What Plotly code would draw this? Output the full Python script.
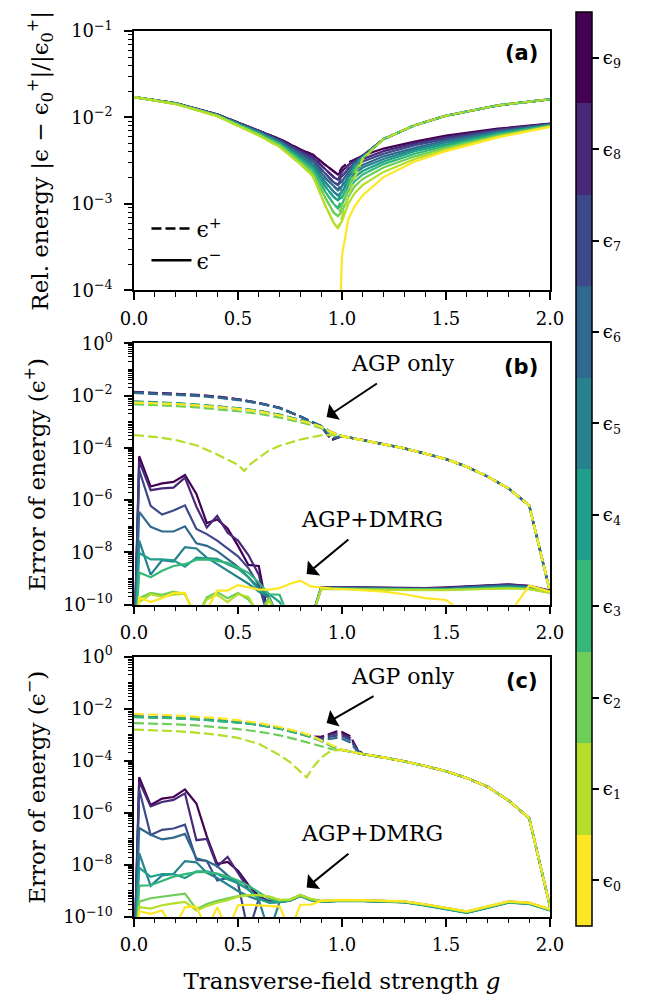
import plotly.graph_objects as go

# ---------------------------------------------------------------- colours
# viridis sampled at ten levels; index k is the colour of level eps_k
COLORS = ["#fde725", "#b5de2b", "#6ece58", "#35b779", "#1f9e89",
          "#26828e", "#31688e", "#3e4989", "#482878", "#440154"]
LEVEL_LABELS = ["ϵ<sub>%d</sub>" % k for k in range(10)]

# ---------------------------------------------------------------- panel (a)
# relative energy, stored as log10 of the value, one row per level k = 0..9
GA = [0.0, 0.2, 0.4, 0.6, 0.7, 0.8, 0.86, 0.92, 0.96, 0.98,
      1.0, 1.03, 1.06, 1.1, 1.2, 1.35, 1.5, 1.75, 2.0]
A_MINUS = [
    [None, None, None, None, None, None, None, None, None, -5.0,
     -3.60, -3.18, -3.03, -2.90, -2.69, -2.51, -2.39, -2.23, -2.11],
    [-1.765, -1.845, -1.985, -2.21, -2.34, -2.54, -2.68, -3.02, -3.22, -3.28,
     -3.20, -3.00, -2.88, -2.78, -2.63, -2.48, -2.37, -2.22, -2.105],
    [-1.765, -1.842, -1.980, -2.20, -2.325, -2.515, -2.645, -2.93, -3.10, -3.14,
     -3.09, -2.92, -2.80, -2.71, -2.58, -2.45, -2.35, -2.21, -2.10],
    [-1.765, -1.841, -1.977, -2.19, -2.31, -2.49, -2.61, -2.86, -3.00, -3.05,
     -3.00, -2.85, -2.74, -2.66, -2.54, -2.42, -2.33, -2.195, -2.095],
    [-1.765, -1.840, -1.975, -2.18, -2.30, -2.47, -2.58, -2.80, -2.92, -2.96,
     -2.92, -2.79, -2.69, -2.62, -2.51, -2.39, -2.31, -2.185, -2.09],
    [-1.765, -1.839, -1.973, -2.175, -2.29, -2.45, -2.55, -2.75, -2.86, -2.90,
     -2.86, -2.74, -2.65, -2.58, -2.48, -2.37, -2.29, -2.175, -2.087],
    [-1.765, -1.838, -1.971, -2.17, -2.28, -2.43, -2.52, -2.70, -2.80, -2.84,
     -2.80, -2.69, -2.61, -2.55, -2.45, -2.35, -2.27, -2.165, -2.083],
    [-1.765, -1.837, -1.969, -2.16, -2.27, -2.41, -2.49, -2.65, -2.75, -2.78,
     -2.74, -2.64, -2.57, -2.51, -2.42, -2.32, -2.25, -2.15, -2.079],
    [-1.765, -1.836, -1.967, -2.155, -2.26, -2.39, -2.46, -2.60, -2.69, -2.72,
     -2.68, -2.60, -2.53, -2.48, -2.39, -2.30, -2.23, -2.14, -2.075],
    [-1.765, -1.835, -1.965, -2.15, -2.25, -2.37, -2.43, -2.55, -2.63, -2.66,
     -2.62, -2.56, -2.49, -2.44, -2.36, -2.28, -2.21, -2.13, -2.07],
]
# eps^+ coincides with eps^- up to g = 0.98; beyond that it is listed here
A_PLUS_SPLIT = 10
A_PLUS_RIGHT = [
    None,
    [-3.15, -2.93, -2.70, -2.48, -2.25, -2.09, -1.98, -1.86, -1.79],
    [-3.02, -2.84, -2.64, -2.47, -2.25, -2.09, -1.98, -1.86, -1.79],
    [-2.93, -2.77, -2.60, -2.465, -2.25, -2.09, -1.98, -1.86, -1.79],
    [-2.85, -2.71, -2.57, -2.46, -2.25, -2.09, -1.98, -1.86, -1.79],
    [-2.79, -2.67, -2.55, -2.455, -2.25, -2.09, -1.98, -1.86, -1.79],
    [-2.74, -2.63, -2.53, -2.45, -2.25, -2.09, -1.98, -1.86, -1.79],
    [-2.68, -2.59, -2.51, -2.45, -2.25, -2.09, -1.98, -1.86, -1.79],
    [-2.63, -2.55, -2.50, -2.445, -2.25, -2.09, -1.98, -1.86, -1.79],
    [-2.58, -2.52, -2.49, -2.44, -2.25, -2.09, -1.98, -1.86, -1.79],
]

# ---------------------------------------------------------------- AGP only, panels (b) and (c)
HEAD_G = [0.0, 0.1, 0.2, 0.3, 0.4, 0.5, 0.6, 0.7, 0.8, 0.85, 0.9, 0.95]
TAIL_G = [1.0, 1.1, 1.2, 1.3, 1.4, 1.5, 1.6, 1.7, 1.8, 1.9, 2.0]

B_AGP_TAIL = [-3.55, -3.70, -3.85, -4.02, -4.22, -4.43, -4.72, -5.10, -5.55, -6.20, -9.50]
B_AGP_E1_G = [0.0, 0.1, 0.2, 0.3, 0.4, 0.45, 0.5, 0.53, 0.56, 0.6, 0.65, 0.7, 0.8, 0.9, 0.95]
B_AGP_E1 = [-3.51, -3.58, -3.70, -3.90, -4.25, -4.45, -4.65, -4.88, -4.62, -4.38,
            -4.10, -3.92, -3.68, -3.52, -3.50]
B_AGP_HEAD = [
    [-2.27, -2.29, -2.32, -2.37, -2.43, -2.51, -2.61, -2.76, -2.96, -3.06, -3.20, -3.40],
    None,
    [-2.33, -2.36, -2.40, -2.45, -2.52, -2.60, -2.70, -2.84, -3.02, -3.12, -3.25, -3.42],
    [-2.25, -2.27, -2.31, -2.36, -2.42, -2.50, -2.60, -2.75, -2.95, -3.05, -3.19, -3.40],
    [-2.24, -2.26, -2.30, -2.35, -2.41, -2.49, -2.59, -2.74, -2.94, -3.04, -3.18, -3.40],
    [-2.22, -2.25, -2.29, -2.34, -2.40, -2.48, -2.58, -2.73, -2.93, -3.03, -3.17, -3.40],
    [-1.90, -1.93, -1.96, -2.01, -2.08, -2.17, -2.30, -2.48, -2.80, -2.99, -3.16, -3.62],
    [-1.88, -1.91, -1.94, -1.99, -2.06, -2.15, -2.29, -2.47, -2.80, -2.99, -3.17, -3.65],
    [-1.87, -1.90, -1.93, -1.98, -2.05, -2.14, -2.28, -2.47, -2.80, -3.00, -3.18, -3.68],
    [-1.86, -1.89, -1.92, -1.97, -2.04, -2.14, -2.28, -2.47, -2.80, -3.00, -3.18, -3.70],
]

C_AGP_TAIL = [-3.58, -3.74, -3.87, -4.02, -4.20, -4.40, -4.66, -5.00, -5.52, -6.20, -9.60]
C_AGP_E1_G = [0.0, 0.1, 0.2, 0.3, 0.4, 0.5, 0.6, 0.7, 0.75, 0.8, 0.83, 0.86, 0.9, 0.95]
C_AGP_E1 = [-2.80, -2.82, -2.86, -2.92, -3.00, -3.12, -3.35, -3.78, -4.05, -4.42,
            -4.63, -4.25, -3.88, -3.60]
C_ARCH_G = [0.0, 0.1, 0.2, 0.3, 0.4, 0.5, 0.6, 0.7, 0.8, 0.85, 0.9, 0.95,
            0.975, 1.0, 1.04, 1.07]
C_AGP_HEAD = [
    [-2.20, -2.22, -2.26, -2.31, -2.36, -2.44, -2.55, -2.70, -2.90, -3.03, -3.20, -3.40],
    None,
    [-2.55, -2.57, -2.60, -2.64, -2.70, -2.78, -2.88, -3.02, -3.22, -3.33, -3.45, -3.55],
    [-2.32, -2.34, -2.37, -2.41, -2.46, -2.53, -2.63, -2.77, -2.97, -3.09, -3.24, -3.44],
    [-2.31, -2.33, -2.36, -2.40, -2.45, -2.52, -2.62, -2.76, -2.96, -3.08, -3.23, -3.43],
    [-2.30, -2.32, -2.35, -2.39, -2.44, -2.51, -2.61, -2.75, -2.95, -3.07, -3.22, -3.42],
    [-2.30, -2.32, -2.35, -2.39, -2.44, -2.51, -2.61, -2.75, -2.95, -3.07, -3.20, -3.15,
     -3.12, -3.15, -3.30, -3.60],
    [-2.30, -2.32, -2.35, -2.39, -2.44, -2.51, -2.61, -2.75, -2.95, -3.07, -3.16, -3.06,
     -3.03, -3.06, -3.20, -3.56],
    [-2.30, -2.32, -2.35, -2.39, -2.44, -2.51, -2.61, -2.75, -2.95, -3.07, -3.12, -2.98,
     -2.95, -2.98, -3.13, -3.53],
    [-2.30, -2.32, -2.35, -2.39, -2.44, -2.51, -2.61, -2.75, -2.95, -3.07, -3.08, -2.92,
     -2.87, -2.90, -3.06, -3.50],
]

# ---------------------------------------------------------------- AGP+DMRG, panels (b) and (c)
DG = [0.0, 0.025, 0.08, 0.135, 0.19, 0.245, 0.30, 0.35, 0.40, 0.45, 0.50, 0.55,
      0.60, 0.65, 0.70, 0.75, 0.80, 0.85, 0.90, 0.95, 1.0, 1.1, 1.2, 1.3, 1.4,
      1.5, 1.6, 1.7, 1.8, 1.9, 2.0]
B_DMRG = [
    [-12, -9.72, -9.90, -9.75, -9.55, -9.55, -10.6, -10.2, -9.46, -9.46, -9.25, -9.33,
     -9.42, -9.42, -9.37, -9.20, -9.08, -9.30, -9.35, -9.38, -9.40, -9.45, -9.50, -9.60,
     -9.75, -9.82, -10.4, -10.4, -10.4, -9.27, -9.50],
    [-12, -9.90, -9.60, -9.70, -9.62, -9.58, -10.5, -9.80, -9.62, -9.90, -9.60, -9.70,
     -10.4, -9.85, -10.6, -10.6, -10.6, -10.6, -9.40, -9.41, -9.41, -9.42, -9.43, -9.44,
     -9.45, -9.44, -9.42, -9.40, -9.38, -9.41, -9.55],
    [-12, -9.75, -9.55, -9.62, -9.50, -9.60, -10.5, -9.72, -9.52, -9.75, -9.55, -9.80,
     -10.3, -9.75, -10.6, -10.6, -10.6, -10.6, -9.39, -9.40, -9.40, -9.41, -9.42, -9.43,
     -9.44, -9.43, -9.41, -9.38, -9.37, -9.40, -9.54],
    [-12, -8.77, -8.95, -8.70, -8.52, -8.45, -8.28, -8.27, -8.33, -8.40, -8.58, -8.78,
     -9.15, -9.60, -9.62, -10.6, -10.6, -10.6, -9.38, -9.39, -9.39, -9.40, -9.41, -9.42,
     -9.43, -9.42, -9.40, -9.37, -9.35, -9.38, -9.53],
    [-12, -8.02, -8.27, -8.27, -8.30, -8.55, -8.20, -8.22, -8.25, -8.45, -8.62, -8.95,
     -9.45, -9.60, -9.90, -10.6, -10.6, -10.6, -9.38, -9.38, -9.38, -9.39, -9.40, -9.41,
     -9.42, -9.41, -9.38, -9.35, -9.33, -9.37, -9.52],
    [-12, -7.55, -8.85, -8.30, -8.35, -7.80, -7.85, -8.20, -8.45, -8.70, -8.95, -9.20,
     -9.50, -9.75, -10.6, -10.6, -10.6, -10.6, -9.37, -9.37, -9.37, -9.38, -9.39, -9.40,
     -9.41, -9.40, -9.37, -9.33, -9.31, -9.35, -9.51],
    [-12, -6.45, -7.02, -7.20, -7.20, -7.00, -7.65, -7.75, -7.95, -8.25, -8.55, -8.95,
     -9.35, -9.70, -10.6, -10.6, -10.6, -10.6, -9.36, -9.36, -9.36, -9.37, -9.38, -9.39,
     -9.40, -9.39, -9.35, -9.30, -9.28, -9.33, -9.50],
    [-12, -4.85, -6.22, -6.55, -6.40, -6.20, -7.10, -7.30, -7.55, -7.85, -8.15, -8.60,
     -9.25, -10.6, -10.6, -10.6, -10.6, -10.6, -9.35, -9.35, -9.35, -9.36, -9.37, -9.38,
     -9.39, -9.37, -9.33, -9.28, -9.25, -9.31, -9.48],
    [-12, -4.52, -5.62, -5.55, -5.52, -5.14, -6.25, -7.05, -6.60, -7.25, -7.55, -8.10,
     -8.85, -10.6, -10.6, -10.6, -10.6, -10.6, -9.35, -9.34, -9.35, -9.35, -9.36, -9.37,
     -9.38, -9.36, -9.31, -9.26, -9.23, -9.29, -9.47],
    [-12, -4.32, -5.48, -5.36, -5.30, -5.04, -5.76, -6.88, -6.74, -7.08, -7.75, -8.48,
     -8.52, -10.6, -10.6, -10.6, -10.6, -10.6, -9.34, -9.33, -9.34, -9.34, -9.35, -9.36,
     -9.37, -9.34, -9.30, -9.25, -9.22, -9.28, -9.46],
]
C_DMRG = [
    [-12, -9.78, -9.88, -9.75, -10.5, -9.62, -9.60, -10.5, -9.62, -10.5, -9.55, -9.53,
     -9.55, -9.58, -9.60, -10.5, -9.53, -9.53, -9.38, -9.36, -9.34, -9.35, -9.37, -9.40,
     -9.51, -9.64, -9.78, -9.59, -9.40, -9.45, -9.70],
    [-12, -9.62, -9.68, -9.55, -9.48, -9.42, -9.75, -9.58, -9.45, -9.35, -9.22, -9.16,
     -9.16, -9.22, -9.34, -9.33, -9.15, -9.31, -9.38, -9.36, -9.35, -9.36, -9.38, -9.41,
     -9.52, -9.65, -9.79, -9.60, -9.41, -9.46, -9.71],
    [-12, -9.41, -9.28, -9.22, -9.15, -9.10, -9.70, -9.50, -9.38, -9.30, -9.20, -9.16,
     -9.16, -9.22, -9.35, -9.33, -9.15, -9.31, -9.39, -9.37, -9.35, -9.36, -9.38, -9.41,
     -9.53, -9.66, -9.80, -9.61, -9.42, -9.47, -9.72],
    [-12, -8.80, -8.78, -8.60, -8.45, -8.35, -8.28, -8.28, -8.33, -8.45, -8.60, -8.80,
     -9.05, -9.30, -9.40, -9.35, -9.17, -9.33, -9.40, -9.38, -9.36, -9.37, -9.39, -9.42,
     -9.54, -9.67, -9.81, -9.62, -9.43, -9.48, -9.73],
    [-12, -8.10, -8.46, -8.35, -8.35, -8.50, -8.25, -8.25, -8.35, -8.55, -8.70, -8.95,
     -9.30, -9.45, -9.42, -9.36, -9.18, -9.34, -9.41, -9.39, -9.37, -9.38, -9.40, -9.43,
     -9.55, -9.68, -9.83, -9.64, -9.44, -9.49, -9.74],
    [-12, -7.55, -8.80, -8.40, -8.35, -7.85, -7.90, -8.30, -8.50, -8.75, -9.00, -9.20,
     -9.35, -10.6, -9.42, -9.37, -9.19, -9.35, -9.42, -9.40, -9.38, -9.39, -9.41, -9.44,
     -9.56, -9.69, -9.84, -9.65, -9.45, -9.50, -9.75],
    [-12, -6.58, -6.84, -7.02, -6.95, -6.81, -7.75, -7.85, -8.05, -8.40, -8.70, -8.95,
     -9.25, -9.45, -9.43, -9.37, -9.19, -9.35, -9.41, -9.39, -9.37, -9.38, -9.40, -9.43,
     -9.55, -9.68, -9.83, -9.64, -9.44, -9.49, -9.74],
    [-12, -5.10, -6.85, -6.65, -6.60, -6.45, -7.80, -7.85, -8.60, -8.50, -8.70, -10.6,
     -9.30, -9.43, -9.42, -9.36, -9.18, -9.34, -9.41, -9.39, -9.37, -9.38, -9.40, -9.43,
     -9.54, -9.67, -9.82, -9.63, -9.43, -9.48, -9.73],
    [-12, -4.80, -5.75, -5.58, -5.50, -5.25, -7.05, -7.00, -8.05, -7.69, -8.31, -8.94,
     -9.25, -9.42, -9.41, -9.35, -9.17, -9.33, -9.40, -9.38, -9.36, -9.37, -9.39, -9.42,
     -9.53, -9.66, -9.80, -9.62, -9.42, -9.47, -9.72],
    [-12, -4.63, -5.70, -5.45, -5.39, -5.10, -5.64, -6.90, -7.96, -7.88, -8.22, -8.77,
     -9.20, -9.40, -9.40, -9.34, -9.16, -9.32, -9.39, -9.37, -9.35, -9.36, -9.38, -9.41,
     -9.52, -9.65, -9.79, -9.61, -9.41, -9.46, -9.71],
]

# ---------------------------------------------------------------- axis ticks and titles
X_TICKS = [0.0, 0.5, 1.0, 1.5, 2.0]
X_TICK_TEXT = ["0.0", "0.5", "1.0", "1.5", "2.0"]
X_MINOR = [0.1, 0.2, 0.3, 0.4, 0.6, 0.7, 0.8, 0.9, 1.1, 1.2, 1.3, 1.4,
           1.6, 1.7, 1.8, 1.9]
A_DECADES = [-4, -3, -2, -1]
BC_DECADES = [-10, -8, -6, -4, -2, 0]
Y_TITLES = [
    "Rel. energy |ϵ − ϵ<sub>0</sub><sup>+</sup>|/|ϵ<sub>0</sub><sup>+</sup>|",
    "Error of energy (ϵ<sup>+</sup>)",
    "Error of energy (ϵ<sup>−</sup>)",
]
X_TITLE = "Transverse-field strength <i>g</i>"

FONT = "DejaVu Serif"
LW = 2.2
DASH = "10px,4px"
DOMAINS = [[0.7073, 1.0], [0.3525, 0.6475], [0.0, 0.2938]]


def dec(vals):
    """log10 exponents -> values on the log axis"""
    return [None if v is None else 10 ** v for v in vals]


def sup_label(e):
    return "10<sup>%s</sup>" % (str(e).replace("-", "−"))


def minor_vals(lo, hi, majors):
    out = []
    for e in range(lo, hi):
        for d in range(1, 10):
            if d == 1 and e in majors:
                continue
            out.append(d * 10.0 ** e)
    return out


fig = go.Figure()

# ---- panel (a)
for k in range(9, -1, -1):
    fig.add_trace(go.Scatter(
        x=GA, y=dec(A_MINUS[k]), mode="lines", xaxis="x", yaxis="y",
        line=dict(color=COLORS[k], width=LW), showlegend=False, hoverinfo="skip"))
    if A_PLUS_RIGHT[k] is not None:
        fig.add_trace(go.Scatter(
            x=GA, y=dec(A_MINUS[k][:A_PLUS_SPLIT] + A_PLUS_RIGHT[k]),
            mode="lines", xaxis="x", yaxis="y",
            line=dict(color=COLORS[k], width=LW, dash=DASH),
            showlegend=False, hoverinfo="skip"))


def agp_curve(head_g, head, tail):
    last = head_g[-1]
    tg = [g for g in TAIL_G if g > last + 1e-9]
    tv = tail[len(TAIL_G) - len(tg):]
    return head_g + tg, head + tv


# ---- panels (b) and (c)
for xa, ya, heads, e1g, e1v, tail, dmrg in (
        ("x2", "y2", B_AGP_HEAD, B_AGP_E1_G, B_AGP_E1, B_AGP_TAIL, B_DMRG),
        ("x3", "y3", C_AGP_HEAD, C_AGP_E1_G, C_AGP_E1, C_AGP_TAIL, C_DMRG)):
    for k in range(9, -1, -1):
        if k == 1:
            gx, gy = agp_curve(e1g, e1v, tail)
        else:
            hg = HEAD_G if len(heads[k]) == len(HEAD_G) else C_ARCH_G
            gx, gy = agp_curve(hg, heads[k], tail)
        fig.add_trace(go.Scatter(
            x=gx, y=dec(gy), mode="lines", xaxis=xa, yaxis=ya,
            line=dict(color=COLORS[k], width=LW, dash=DASH),
            showlegend=False, hoverinfo="skip"))
    for k in range(9, -1, -1):
        fig.add_trace(go.Scatter(
            x=DG, y=dec(dmrg[k]), mode="lines", xaxis=xa, yaxis=ya,
            line=dict(color=COLORS[k], width=LW),
            showlegend=False, hoverinfo="skip"))

# ---- legend entries for line styles
fig.add_trace(go.Scatter(x=[None], y=[None], mode="lines", xaxis="x", yaxis="y",
                         name="ϵ<sup>+</sup>",
                         line=dict(color="black", width=2.5, dash=DASH)))
fig.add_trace(go.Scatter(x=[None], y=[None], mode="lines", xaxis="x", yaxis="y",
                         name="ϵ<sup>−</sup>", line=dict(color="black", width=2.5)))

# ---- discrete level colour bar
scale = []
for k, c in enumerate(COLORS):
    scale.append([k / 10, c])
    scale.append([(k + 1) / 10, c])
fig.add_trace(go.Scatter(
    x=[None], y=[None], mode="markers", xaxis="x", yaxis="y", showlegend=False,
    marker=dict(color=[0], cmin=-0.5, cmax=9.5, colorscale=scale, showscale=True,
                colorbar=dict(
                    thickness=16, thicknessmode="pixels", len=914, lenmode="pixels",
                    x=1.0625, xanchor="left", xpad=0, y=0.5055, yanchor="middle", ypad=0,
                    outlinewidth=1.5, outlinecolor="black",
                    tickmode="array", tickvals=list(range(10)), ticktext=LEVEL_LABELS,
                    ticks="outside", ticklen=7, tickwidth=1.5, tickcolor="black",
                    tickfont=dict(family=FONT, size=18, color="black")))))

tickfont = dict(family=FONT, size=18, color="black")
titlefont = dict(family=FONT, size=23, color="black")


def xaxis(anchor, title=None):
    d = dict(anchor=anchor, domain=[0, 1], range=[0, 2], tickmode="array",
             tickvals=X_TICKS, ticktext=X_TICK_TEXT, ticks="outside", ticklen=8,
             tickwidth=1.5, tickcolor="black", tickfont=tickfont,
             minor=dict(tickvals=X_MINOR, ticks="outside", ticklen=4.5,
                        tickwidth=1.2, tickcolor="black"),
             showline=True, linewidth=1.5, linecolor="black", mirror=True,
             showgrid=False, zeroline=False, ticklabelstandoff=3)
    if title:
        d["title"] = dict(text=title, font=titlefont, standoff=19)
    return d


def yaxis(anchor, domain, decades, lo, hi):
    return dict(anchor=anchor, domain=domain, type="log", range=[lo, hi],
                tickmode="array", tickvals=[10.0 ** e for e in decades],
                ticktext=[sup_label(e) for e in decades],
                ticks="outside", ticklen=8, tickwidth=1.5, tickcolor="black",
                tickfont=tickfont,
                minor=dict(tickvals=minor_vals(lo, hi, decades), ticks="outside",
                           ticklen=4.5, tickwidth=1.2, tickcolor="black"),
                showline=True, linewidth=1.5, linecolor="black", mirror=True,
                showgrid=False, zeroline=False, ticklabelstandoff=8)


ann_font = dict(family=FONT, size=22, color="black")
label_font = dict(family="DejaVu Sans", size=21, color="black")
annotations = [
    dict(text="<b>(a)</b>", xref="x domain", yref="y domain", x=0.976, y=0.917,
         xanchor="right", yanchor="middle", showarrow=False, font=label_font),
    dict(text="<b>(b)</b>", xref="x2 domain", yref="y2 domain", x=0.976, y=0.91,
         xanchor="right", yanchor="middle", showarrow=False, font=label_font),
    dict(text="<b>(c)</b>", xref="x3 domain", yref="y3 domain", x=0.976, y=0.906,
         xanchor="right", yanchor="middle", showarrow=False, font=label_font),
]
# rotated y-axis titles, centred on each panel
for title, dom, xc in zip(Y_TITLES, DOMAINS, (-0.226, -0.238, -0.238)):
    annotations.append(dict(text=title, xref="paper", yref="paper", x=xc,
                            y=(dom[0] + dom[1]) / 2, xanchor="center",
                            yanchor="middle", textangle=-90, showarrow=False,
                            font=titlefont))
for xa, ya, t1, a1, t2, a2 in (
        ("x2", "y2", (1.293, -0.79), (0.926, -2.82, 1.175, -1.50),
         (1.143, -6.73), (0.83, -8.83, 1.038, -7.46)),
        ("x3", "y3", (1.293, -0.75), (0.926, -2.55, 1.159, -1.48),
         (1.143, -6.79), (0.83, -8.87, 1.038, -7.52))):
    annotations.append(dict(text="AGP only", xref=xa, yref=ya, x=t1[0], y=t1[1],
                            showarrow=False, font=ann_font))
    annotations.append(dict(text="AGP+DMRG", xref=xa, yref=ya, x=t2[0], y=t2[1],
                            showarrow=False, font=ann_font))
    for tip in (a1, a2):
        annotations.append(dict(text="", xref=xa, yref=ya, x=tip[0], y=tip[1],
                                axref=xa, ayref=ya, ax=tip[2], ay=tip[3],
                                showarrow=True, arrowhead=1, arrowsize=1.6,
                                arrowwidth=2, arrowcolor="black"))

fig.update_layout(
    width=650, height=1002,
    margin=dict(l=134, r=100, t=22, b=78),
    paper_bgcolor="white", plot_bgcolor="white",
    font=dict(family=FONT, color="black"),
    xaxis=xaxis("y"),
    xaxis2=xaxis("y2"),
    xaxis3=xaxis("y3", X_TITLE),
    yaxis=yaxis("x", DOMAINS[0], A_DECADES, -4, -1),
    yaxis2=yaxis("x2", DOMAINS[1], BC_DECADES, -10, 0),
    yaxis3=yaxis("x3", DOMAINS[2], BC_DECADES, -10, 0),
    legend=dict(x=0.03, y=0.8005, xanchor="left", yanchor="top",
                bgcolor="rgba(0,0,0,0)", borderwidth=0,
                font=dict(family=FONT, size=22, color="black"),
                tracegroupgap=0, itemwidth=40),
    annotations=annotations,
)

fig.write_html("out.html")
